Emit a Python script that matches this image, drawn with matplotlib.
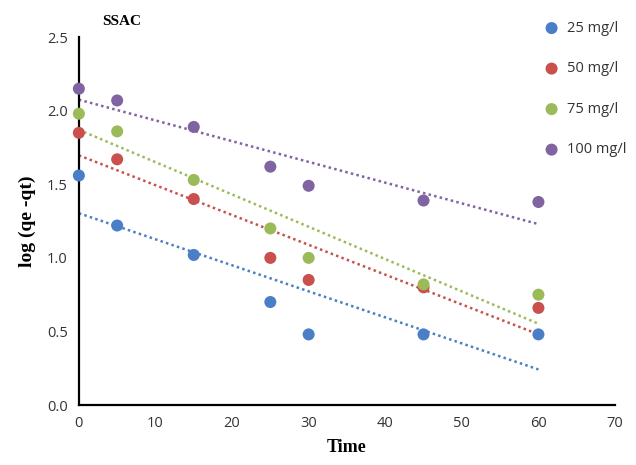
import numpy as np
import matplotlib.pyplot as plt

time = [0, 5, 15, 25, 30, 45, 60]
c25 = [1.56, 1.22, 1.02, 0.70, 0.48, 0.48, 0.48]
c50 = [1.85, 1.67, 1.40, 1.00, 0.85, 0.80, 0.66]
c75 = [1.98, 1.86, 1.53, 1.20, 1.00, 0.82, 0.75]
c100 = [2.15, 2.07, 1.89, 1.62, 1.49, 1.39, 1.38]
labels = ['25 mg/l', '50 mg/l', '75 mg/l', '100 mg/l']
colors = ['#4A7EC6', '#C9504D', '#9BBB59', '#8064A2']

fig = plt.figure(figsize=(6.36, 4.65), dpi=100)
ax = fig.add_axes([0.124, 0.129, 0.843, 0.791])

t = np.array(time)
for ys, lab, col in zip([c25, c50, c75, c100], labels, colors):
    ax.scatter(t, ys, s=75, color=col, label=lab, zorder=3, edgecolors='none', clip_on=False)
    # linear trendline like excel
    k, b = np.polyfit(t, ys, 1)
    xx = np.array([0, 60])
    ax.plot(xx, k * xx + b, color=col, linestyle=(0, (1, 1.3)), linewidth=1.8, zorder=2)

ax.set_xlim(0, 70)
ax.set_ylim(0, 2.5)
ax.set_xticks(range(0, 71, 10))
ax.set_yticks([0, 0.5, 1.0, 1.5, 2.0, 2.5])
ax.set_yticklabels(['0.0', '0.5', '1.0', '1.5', '2.0', '2.5'])
ax.tick_params(length=0, labelsize=10.5, pad=8)
for lab in ax.get_xticklabels() + ax.get_yticklabels():
    lab.set_fontfamily('Open Sans')
    lab.set_color('#333333')
ax.spines['top'].set_visible(False)
ax.spines['right'].set_visible(False)
ax.spines['left'].set_linewidth(1.6)
ax.spines['bottom'].set_linewidth(1.6)

ax.set_xlabel('Time', fontfamily='Liberation Serif', fontweight='bold', fontsize=13, labelpad=6)
ax.set_ylabel('log (qe -qt)', fontfamily='Liberation Serif', fontweight='bold', fontsize=14, labelpad=8)
fig.text(0.192, 0.953, 'SSAC', fontfamily='Liberation Serif', fontweight='bold', fontsize=11, ha='center', va='center')

leg = ax.legend(loc='upper left', bbox_to_anchor=(0.83, 1.08), frameon=False,
                labelspacing=1.75, handletextpad=0.05, markerscale=1.0,
                prop={'family': 'Open Sans', 'size': 10.5})
for txt in leg.get_texts():
    txt.set_color('#333333')

fig.savefig('out.png', dpi=100)
